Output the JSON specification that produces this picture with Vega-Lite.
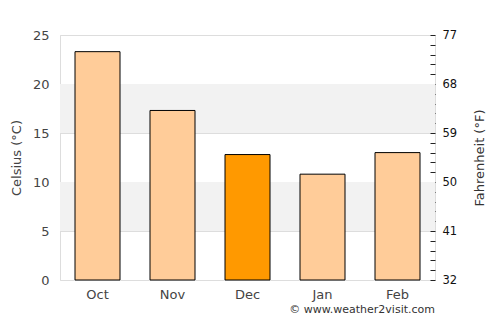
{
  "$schema": "https://vega.github.io/schema/vega-lite/v6.json",
  "width": 375,
  "height": 245,
  "autosize": {"type": "none"},
  "padding": {"left": 60, "top": 35, "right": 65, "bottom": 45},
  "config": {
    "font": "DejaVu Sans",
    "view": {"stroke": "#dddddd"}
  },
  "title": {
    "text": "© www.weather2visit.com",
    "orient": "bottom",
    "anchor": "end",
    "frame": "group",
    "fontSize": 11,
    "fontWeight": "normal",
    "color": "#333333",
    "offset": 3
  },
  "datasets": {
    "months": [
      {"month": "Oct", "celsius": 23.3},
      {"month": "Nov", "celsius": 17.3},
      {"month": "Dec", "celsius": 12.8},
      {"month": "Jan", "celsius": 10.8},
      {"month": "Feb", "celsius": 13.0}
    ],
    "bands": [
      {"lo": 5, "hi": 10},
      {"lo": 15, "hi": 20}
    ]
  },
  "resolve": {"axis": {"y": "independent"}},
  "layer": [
    {
      "data": {"name": "bands"},
      "mark": {"type": "rect", "color": "#f2f2f2"},
      "encoding": {
        "y": {
          "field": "lo", "type": "quantitative",
          "scale": {"domain": [0, 25], "nice": false},
          "axis": {
            "orient": "right",
            "title": "Fahrenheit (°F)",
            "titleAngle": 270,
            "values": [0,1,2,3,4,5,6,7,8,9,10,11,12,13,14,15,16,17,18,19,20,21,22,23,24,25],
            "labelExpr": "datum.value % 5 === 0 ? format(datum.value * 1.8 + 32, 'd') : ''",
            "grid": false,
            "domain": false,
            "ticks": true,
            "tickSize": -5,
            "tickColor": "#222222",
            "labelPadding": 12,
            "labelFontSize": 11.5,
            "labelColor": "#111111",
            "titleFontSize": 13,
            "titleFontWeight": "normal",
            "titleColor": "#333333",
            "titlePadding": 30
          }
        },
        "y2": {"field": "hi"}
      }
    },
    {
      "data": {"name": "months"},
      "mark": {"type": "bar", "stroke": "#000000", "strokeWidth": 1},
      "encoding": {
        "x": {
          "field": "month", "type": "nominal", "sort": null,
          "scale": {"paddingInner": 0.4, "paddingOuter": 0.2},
          "axis": {
            "title": null,
            "labelAngle": 0,
            "ticks": false,
            "domain": false,
            "labelPadding": 8,
            "labelFontSize": 13,
            "labelColor": "#444444"
          }
        },
        "y": {
          "field": "celsius", "type": "quantitative",
          "scale": {"domain": [0, 25], "nice": false},
          "axis": {
            "orient": "left",
            "title": "Celsius (°C)",
            "values": [0, 5, 10, 15, 20, 25],
            "grid": true,
            "gridColor": "#dddddd",
            "domain": false,
            "ticks": false,
            "labelPadding": 11,
            "labelFontSize": 13,
            "labelColor": "#444444",
            "titleFontSize": 13,
            "titleFontWeight": "normal",
            "titleColor": "#444444",
            "titlePadding": 9
          }
        },
        "color": {
          "condition": {"test": "datum.month === 'Dec'", "value": "#ff9900"},
          "value": "#ffcc99"
        }
      }
    }
  ]
}
